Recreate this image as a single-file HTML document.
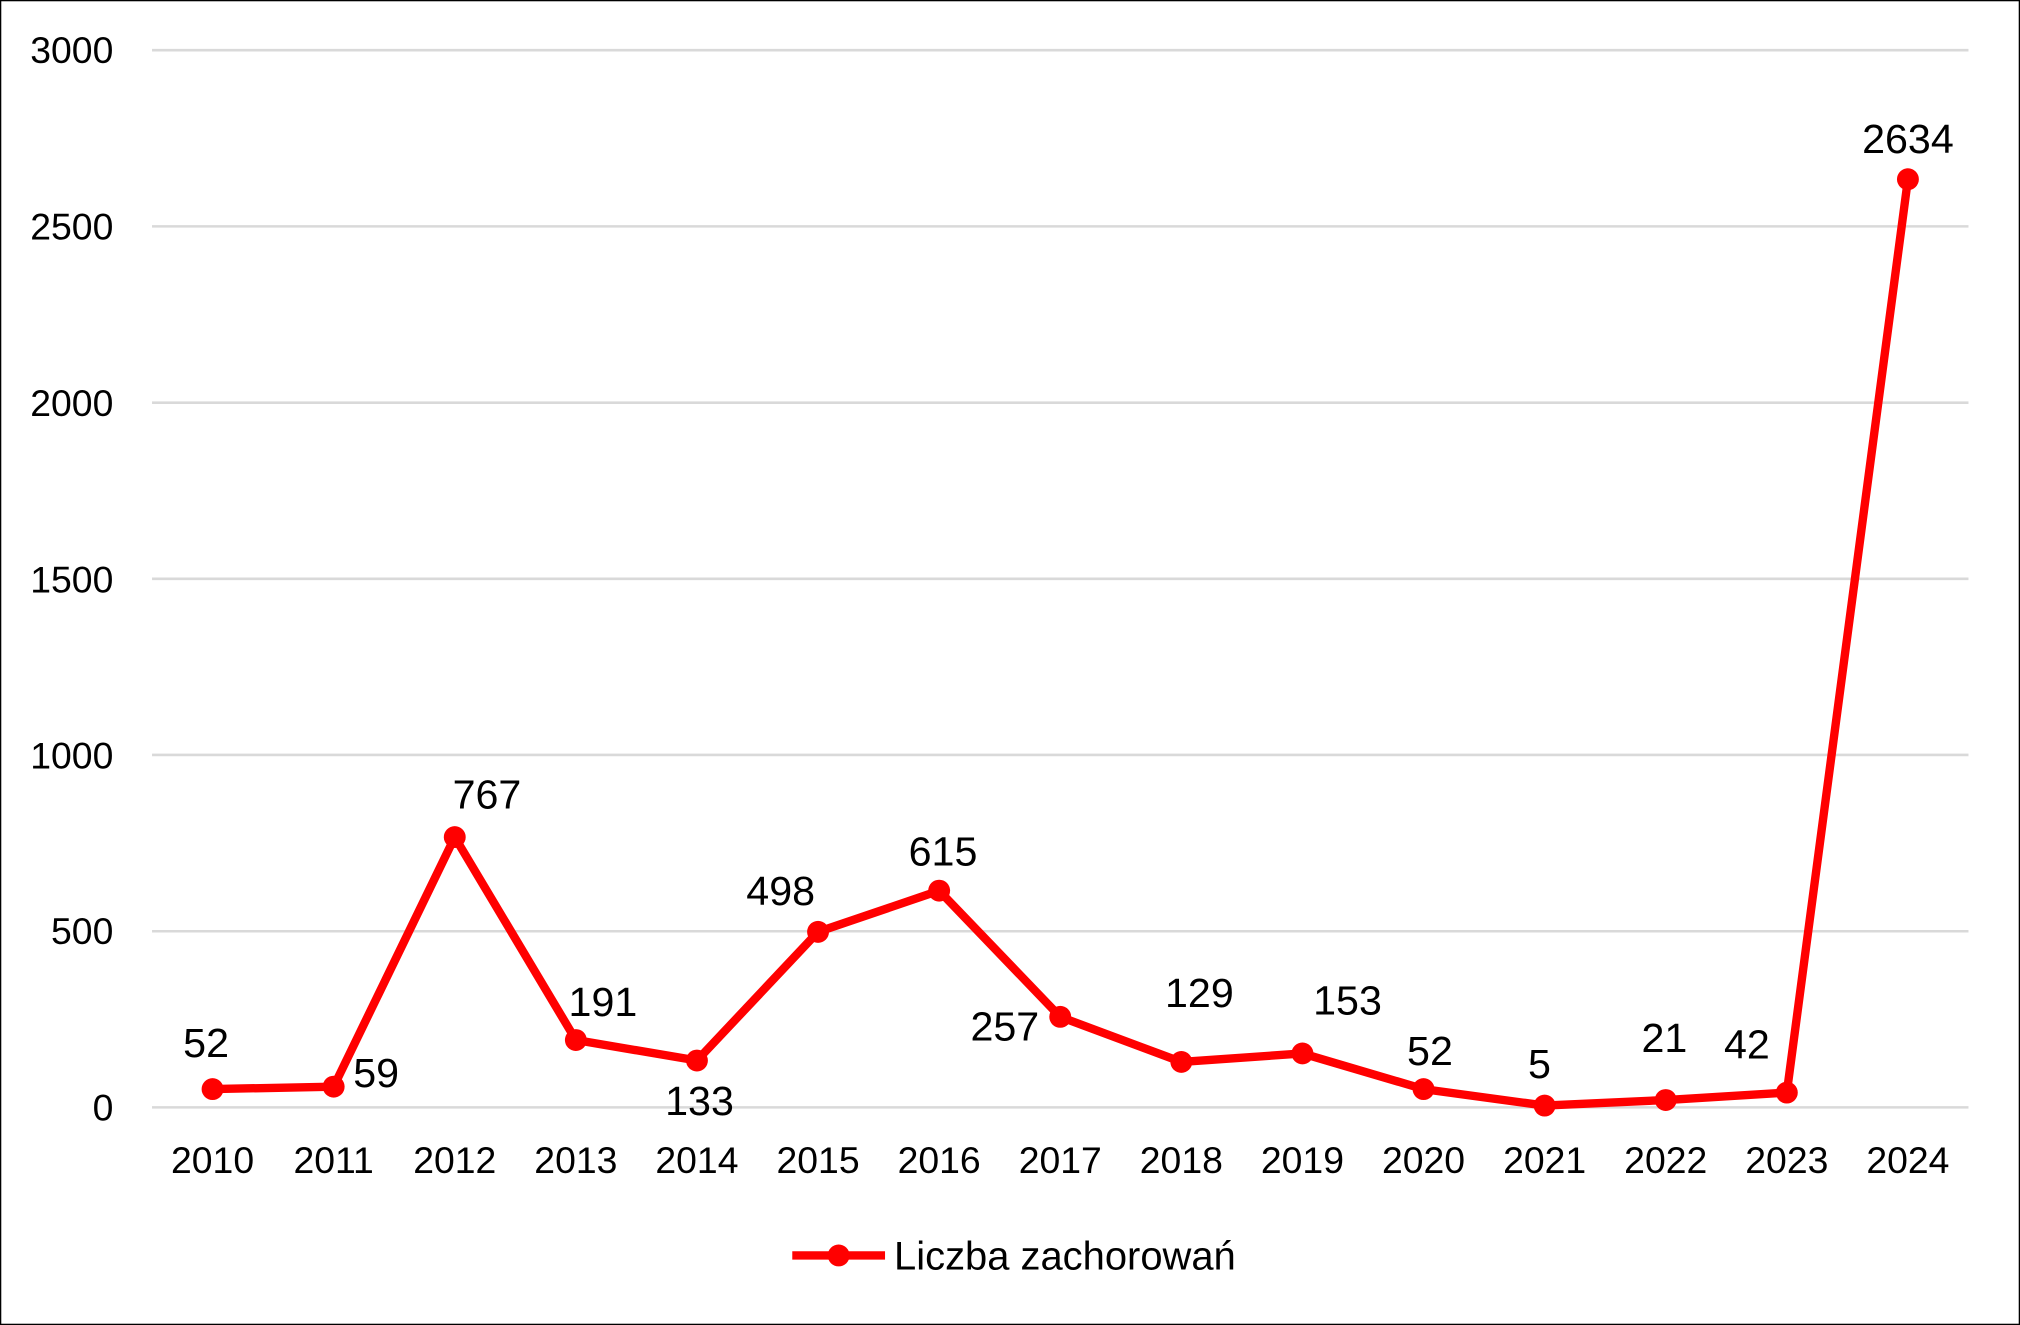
<!DOCTYPE html>
<html><head><meta charset="utf-8"><style>html,body{margin:0;padding:0;background:#fff}svg{display:block}</style></head><body>
<svg width="2020" height="1325" viewBox="0 0 1568 1029" preserveAspectRatio="none" xmlns="http://www.w3.org/2000/svg" font-family="'Liberation Sans', sans-serif">
<rect x="0.5" y="0.5" width="1567" height="1028" fill="#fff" stroke="#000" stroke-width="1"/>
<g stroke="#d9d9d9" stroke-width="2">
<line x1="118" x2="1528" y1="39" y2="39"/><line x1="118" x2="1528" y1="175.8" y2="175.8"/><line x1="118" x2="1528" y1="312.7" y2="312.7"/><line x1="118" x2="1528" y1="449.5" y2="449.5"/><line x1="118" x2="1528" y1="586.3" y2="586.3"/><line x1="118" x2="1528" y1="723.2" y2="723.2"/><line x1="118" x2="1528" y1="860" y2="860"/>
</g>
<g font-size="29" fill="#000" text-anchor="end">
<text x="88" y="49">3000</text><text x="88" y="186">2500</text><text x="88" y="323">2000</text><text x="88" y="460">1500</text><text x="88" y="597">1000</text><text x="88" y="733">500</text><text x="88" y="870">0</text>
</g>
<g font-size="29" fill="#000" text-anchor="middle">
<text x="165" y="911">2010</text><text x="259" y="911">2011</text><text x="353" y="911">2012</text><text x="447" y="911">2013</text><text x="541" y="911">2014</text><text x="635" y="911">2015</text><text x="729" y="911">2016</text><text x="823" y="911">2017</text><text x="917" y="911">2018</text><text x="1011" y="911">2019</text><text x="1105" y="911">2020</text><text x="1199" y="911">2021</text><text x="1293" y="911">2022</text><text x="1387" y="911">2023</text><text x="1481" y="911">2024</text>
</g>
<polyline fill="none" stroke="#ff0000" stroke-width="6.5" stroke-linejoin="round" points="165,845.8 259,843.9 353,650.1 447,807.7 541,823.6 635,723.7 729,691.7 823,789.7 917,824.7 1011,818.1 1105,845.8 1199,858.6 1293,854.3 1387,848.5 1481,139.2"/>
<g fill="#ff0000">
<circle cx="165" cy="845.8" r="8.5"/><circle cx="259" cy="843.9" r="8.5"/><circle cx="353" cy="650.1" r="8.5"/><circle cx="447" cy="807.7" r="8.5"/><circle cx="541" cy="823.6" r="8.5"/><circle cx="635" cy="723.7" r="8.5"/><circle cx="729" cy="691.7" r="8.5"/><circle cx="823" cy="789.7" r="8.5"/><circle cx="917" cy="824.7" r="8.5"/><circle cx="1011" cy="818.1" r="8.5"/><circle cx="1105" cy="845.8" r="8.5"/><circle cx="1199" cy="858.6" r="8.5"/><circle cx="1293" cy="854.3" r="8.5"/><circle cx="1387" cy="848.5" r="8.5"/><circle cx="1481" cy="139.2" r="8.5"/>
</g>
<g font-size="32" fill="#000" text-anchor="middle">
<text x="160" y="821">52</text><text x="292" y="844">59</text><text x="378" y="628">767</text><text x="468" y="789">191</text><text x="543" y="866">133</text><text x="606" y="703">498</text><text x="732" y="672">615</text><text x="780" y="808">257</text><text x="931" y="782">129</text><text x="1046" y="788">153</text><text x="1110" y="827">52</text><text x="1195" y="837">5</text><text x="1292" y="817">21</text><text x="1356" y="822">42</text><text x="1481" y="119">2634</text>
</g>
<line x1="615" x2="687" y1="975" y2="975" stroke="#ff0000" stroke-width="6.5"/>
<circle cx="651" cy="975" r="8.5" fill="#ff0000"/>
<text x="694" y="986" font-size="31" fill="#000">Liczba zachorowań</text>
</svg>
</body></html>
